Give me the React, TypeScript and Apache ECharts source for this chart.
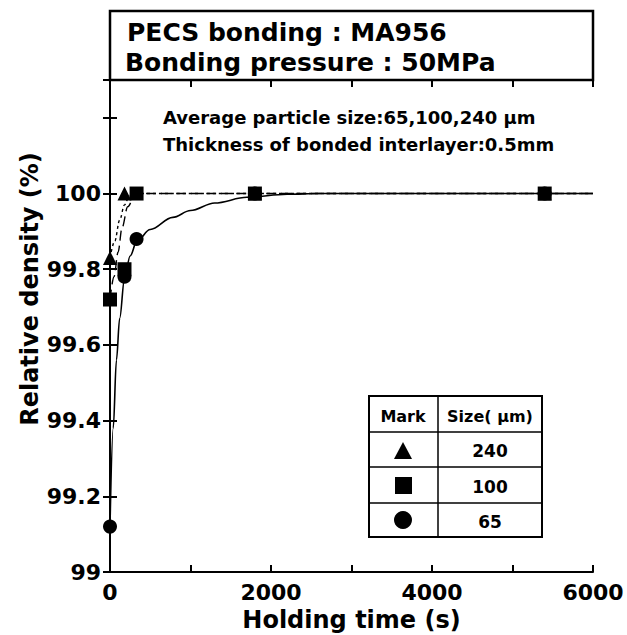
import React, { useEffect, useRef } from "react";
import * as echarts from "echarts";

// Measured points (holding time s, relative density %)
const tri240: [number, number][] = [[0, 99.83], [180, 100], [1800, 100], [5400, 100]];
const sq100: [number, number][] = [[0, 99.72], [180, 99.8], [330, 100], [1800, 100], [5400, 100]];
const circ65: [number, number][] = [[0, 99.12], [180, 99.78], [330, 99.88], [1800, 100], [5400, 100]];

// Fitted curves
const fit65: [number, number][] = [[0, 99.12], [40, 99.38], [80, 99.56], [120, 99.67], [180, 99.775], [250, 99.835], [335, 99.875], [500, 99.905], [780, 99.937], [1000, 99.955], [1300, 99.975], [1700, 99.99], [2200, 99.998], [2600, 100], [6000, 100]];
const fit100: [number, number][] = [[0, 99.72], [50, 99.78], [100, 99.845], [150, 99.91], [220, 99.965], [300, 99.99], [380, 100], [6000, 100]];
const fit240: [number, number][] = [[0, 99.83], [60, 99.875], [120, 99.93], [180, 99.97], [240, 99.993], [300, 100], [6000, 100]];

const xTicks = [0, 2000, 4000, 6000];
const yTickLabels = [99, 99.2, 99.4, 99.6, 99.8, 100];

const yTitle = "Relative density (%)";
const xTitle = "Holding time (s)";
const headerLines = ["PECS bonding : MA956", "Bonding pressure : 50MPa"];
const noteLines = ["Average particle size:65,100,240 \u03bcm", "Thickness of bonded interlayer:0.5mm"];
const tableHeader = ["Mark", "Size( \u03bcm)"];
const tableSizes = ["240", "100", "65"];

const FONT = "'DejaVu Sans', 'Liberation Sans', Arial, sans-serif";

export default function App() {
  const ref = useRef<HTMLDivElement>(null);
  useEffect(() => {
    if (!ref.current) return;
    const chart = echarts.init(ref.current, null, { renderer: "svg" });
    const axisLine = { lineStyle: { color: "#000", width: 2 } };
    const tick = { inside: true, length: 7, lineStyle: { color: "#000", width: 2 } };
    const gridL = 110, gridT = 80, gridR = 593, gridB = 572;
    const tx = 369, ty = 396, tw = 173, th = 141;
    const colX = 438;
    const rowY = [432, 467, 503];
    const lineCommon = { smooth: 0.35, smoothMonotone: "x", showSymbol: false, symbol: "none", z: 2 };
    const option: any = {
      animation: false,
      backgroundColor: "#fff",
      textStyle: { fontFamily: FONT },
      grid: { left: gridL, top: gridT, right: 627 - gridR, bottom: 635 - gridB, containLabel: false, outerBoundsMode: "none" },
      xAxis: [
        {
          type: "value", min: 0, max: 6000, interval: 1000,
          axisLine, axisTick: tick, splitLine: { show: false },
          axisLabel: {
            color: "#000", fontSize: 22, fontWeight: "bold", fontFamily: FONT, margin: 9,
            formatter: (v: number) => (xTicks.includes(v) ? String(v) : ""),
          },
          name: xTitle, nameLocation: "middle", nameGap: 36,
          nameTextStyle: { color: "#000", fontSize: 24, fontWeight: "bold", fontFamily: FONT },
        },
        {
          type: "value", position: "top", min: 0, max: 6000, interval: 1000,
          axisLine, axisTick: tick, axisLabel: { show: false }, splitLine: { show: false },
        },
      ],
      yAxis: [
        {
          type: "value", min: 99, max: 100.3, interval: 0.2,
          axisLine, axisTick: tick, splitLine: { show: false },
          axisLabel: {
            color: "#000", fontSize: 22, fontWeight: "bold", fontFamily: FONT, margin: 9,
            formatter: (v: number) => {
              const r = Math.round(v * 10) / 10;
              return yTickLabels.includes(r) ? String(r) : "";
            },
          },
        },
        {
          type: "value", position: "right", min: 99, max: 100.3, interval: 0.2,
          axisLine, axisTick: tick, axisLabel: { show: false }, splitLine: { show: false },
        },
      ],
      series: [
        { type: "line", data: fit65, ...lineCommon, lineStyle: { color: "#000", width: 1.6, type: "solid" } },
        { type: "line", data: fit100, ...lineCommon, lineStyle: { color: "#000", width: 1.4, type: [10, 5] } },
        { type: "line", data: fit240, ...lineCommon, lineStyle: { color: "#000", width: 1.4, type: [3, 3] } },
        { type: "scatter", data: circ65, symbol: "circle", symbolSize: 14, itemStyle: { color: "#000", opacity: 1 }, z: 3 },
        { type: "scatter", data: tri240, symbol: "triangle", symbolSize: 14, itemStyle: { color: "#000", opacity: 1 }, z: 4 },
        { type: "scatter", data: sq100, symbol: "rect", symbolSize: 14, itemStyle: { color: "#000", opacity: 1 }, z: 5 },
      ],
      graphic: [
        { type: "text", x: 30, y: 289, rotation: Math.PI / 2,
          style: { text: yTitle, fill: "#000", font: `bold 24px ${FONT}`, align: "center", verticalAlign: "middle" }, z: 11 },
        { type: "rect", shape: { x: gridL, y: 11, width: gridR - gridL, height: gridT - 11 },
          style: { fill: "#fff", stroke: "#000", lineWidth: 2.5 }, z: 10 },
        { type: "text", x: 127, y: 32, style: { text: headerLines[0], fill: "#000", font: `bold 25px ${FONT}`, verticalAlign: "middle" }, z: 11 },
        { type: "text", x: 125, y: 62, style: { text: headerLines[1], fill: "#000", font: `bold 25px ${FONT}`, verticalAlign: "middle" }, z: 11 },
        { type: "text", x: 163, y: 117, style: { text: noteLines[0], fill: "#000", font: `bold 18px ${FONT}`, verticalAlign: "middle" }, z: 11 },
        { type: "text", x: 163, y: 144, style: { text: noteLines[1], fill: "#000", font: `bold 18px ${FONT}`, verticalAlign: "middle" }, z: 11 },
        // legend table
        { type: "rect", shape: { x: tx, y: ty, width: tw, height: th }, style: { fill: "#fff", stroke: "#000", lineWidth: 2 }, z: 10 },
        { type: "line", shape: { x1: colX, y1: ty, x2: colX, y2: ty + th }, style: { stroke: "#000", lineWidth: 1.5 }, z: 11 },
        ...rowY.map((y) => ({ type: "line", shape: { x1: tx, y1: y, x2: tx + tw, y2: y }, style: { stroke: "#000", lineWidth: 1.5 }, z: 11 })),
        { type: "text", x: 403, y: 416, style: { text: tableHeader[0], fill: "#000", font: `bold 16px ${FONT}`, align: "center", verticalAlign: "middle" }, z: 12 },
        { type: "text", x: 490, y: 416, style: { text: tableHeader[1], fill: "#000", font: `bold 16px ${FONT}`, align: "center", verticalAlign: "middle" }, z: 12 },
        ...tableSizes.map((s, i) => ({ type: "text", x: 490, y: [451, 487, 522][i], style: { text: s, fill: "#000", font: `bold 17px ${FONT}`, align: "center", verticalAlign: "middle" }, z: 12 })),
        { type: "polygon", shape: { points: [[403, 442], [394, 459], [412, 459]] }, style: { fill: "#000" }, z: 12 },
        { type: "rect", shape: { x: 395, y: 477, width: 17, height: 17 }, style: { fill: "#000" }, z: 12 },
        { type: "circle", shape: { cx: 403, cy: 520, r: 9 }, style: { fill: "#000" }, z: 12 },
      ],
    };
    chart.setOption(option);
    return () => chart.dispose();
  }, []);
  return <div ref={ref} style={{ width: 627, height: 635, position: "absolute", left: 0, top: 0 }} />;
}
